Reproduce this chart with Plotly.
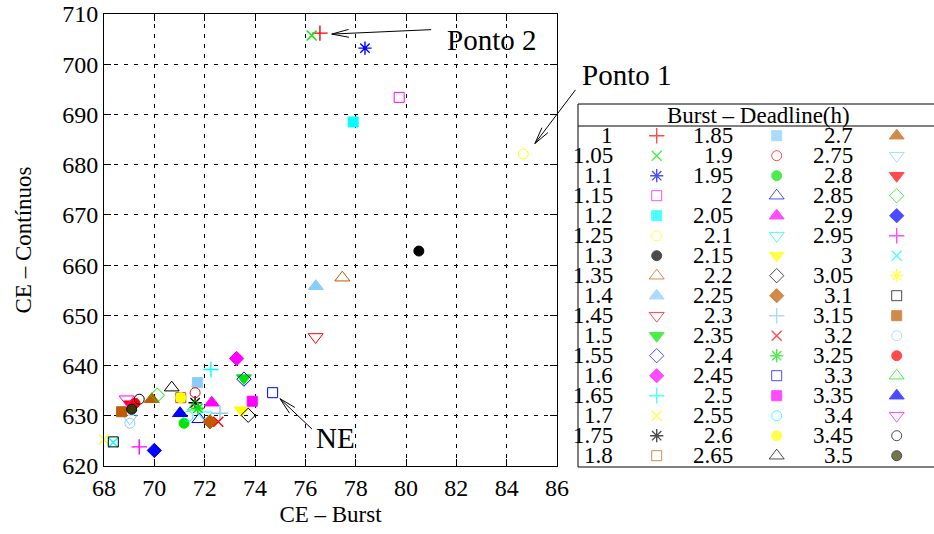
import math
import plotly.graph_objects as go

# Burst deadline (h) for each run
deadlines = ["1", "1.05", "1.1", "1.15", "1.2", "1.25", "1.3", "1.35", "1.4", "1.45",
             "1.5", "1.55", "1.6", "1.65", "1.7", "1.75", "1.8", "1.85", "1.9", "1.95",
             "2", "2.05", "2.1", "2.15", "2.2", "2.25", "2.3", "2.35", "2.4", "2.45",
             "2.5", "2.55", "2.6", "2.65", "2.7", "2.75", "2.8", "2.85", "2.9", "2.95",
             "3", "3.05", "3.1", "3.15", "3.2", "3.25", "3.3", "3.35", "3.4", "3.45", "3.5"]

# CE with burst allocation
ce_burst = [76.58, 76.25, 78.37, 79.73, 77.90, 84.66, 80.51, 77.47, 76.42, 76.41,
            73.56, 73.56, 73.27, 72.25, 68.00, 71.62, 71.05, 71.71, 71.62, 71.18,
            71.79, 72.28, 72.01, 73.47, 73.73, 72.21, 72.61, 72.54, 71.73, 74.70,
            73.89, 71.34, 71.05, 70.69, 69.90, 69.03, 69.07, 70.12, 70.00, 69.40,
            68.37, 67.97, 68.37, 68.70, 69.03, 69.23, 71.62, 71.02, 68.90, 69.40, 69.10]

# CE with continuous allocation
ce_continuos = [706.2, 705.7, 703.2, 693.4, 688.5, 682.1, 662.8, 657.5, 655.8, 645.7,
                637.5, 637.3, 641.4, 639.2, 625.3, 632.6, 633.6, 636.6, 634.6, 628.5,
                629.3, 632.6, 630.1, 631.1, 630.1, 628.8, 630.5, 628.8, 631.5, 634.6,
                632.9, 629.9, 633.6, 635.6, 633.3, 629.5, 632.3, 634.1, 623.1, 623.8,
                624.7, 625.3, 624.8, 630.8, 628.5, 632.5, 631.8, 630.5, 633.3, 633.3, 631.3]

x_ticks = [68, 70, 72, 74, 76, 78, 80, 82, 84, 86]
y_ticks = [620, 630, 640, 650, 660, 670, 680, 690, 700, 710]

# ---- point styles (gnuplot-like cycle) ----
RED, GREEN, BLUE, MAGENTA, CYAN = "#ff0000", "#00e600", "#0000ff", "#ff00ff", "#00ffff"
YELLOW, BLACK, BROWN, LBLUE, OLIVE = "#ffff00", "#000000", "#c05a00", "#88ccfa", "#3a3a08"
color_cycle = [RED, GREEN, BLUE, MAGENTA, CYAN, YELLOW, BLACK, BROWN, LBLUE]
symbol_cycle = ["cross-thin-open", "x-thin-open", "asterisk-open", "square-open", "square",
                "circle-open", "circle", "triangle-up-open", "triangle-up",
                "triangle-down-open", "triangle-down", "diamond-open", "diamond"]
symbol_size = {"cross-thin-open": 11, "x-thin-open": 10, "asterisk-open": 11,
               "square-open": 10, "square": 10, "circle-open": 10, "circle": 10,
               "triangle-up-open": 13, "triangle-up": 13, "triangle-down-open": 13,
               "triangle-down": 13, "diamond-open": 11, "diamond": 11}
thin_symbols = {"cross-thin-open", "x-thin-open", "asterisk-open"}

colors = [color_cycle[i % 9] for i in range(len(deadlines))]
symbols = [symbol_cycle[i % 13] for i in range(len(deadlines))]
colors[49], symbols[49] = BLACK, "circle-open"
colors[50], symbols[50] = OLIVE, "circle"
line_colors = list(colors)
line_colors[50] = BLACK
sizes = [symbol_size[s] for s in symbols]
line_widths = [1.4 if s in thin_symbols else 1 for s in symbols]

W, H = 934, 534
FONT = "Liberation Serif"
# plot frame in pixels
PL, PR, PT, PB = 104, 557, 14, 466
# key box in pixels
KL, KT, KH, KB = 578, 104, 126, 467

fig = go.Figure()

for i, lab in enumerate(deadlines):
    fig.add_trace(go.Scatter(
        x=[ce_burst[i]], y=[ce_continuos[i]], mode="markers", name=lab,
        cliponaxis=False, showlegend=False,
        marker=dict(symbol=symbols[i], size=sizes[i], color=colors[i],
                    line=dict(color=line_colors[i], width=line_widths[i])),
    ))

# ---- key: table of deadline / symbol in three column pairs ----
rows = 17
key_x, key_y = [], []
for i in range(len(deadlines)):
    c, r = divmod(i, rows)
    key_x.append(656.7 + 120 * c)
    key_y.append(135.7 + 20 * r)
fig.add_trace(go.Scatter(
    x=key_x, y=key_y, xaxis="x2", yaxis="y2", mode="markers", showlegend=False,
    cliponaxis=False, hoverinfo="skip",
    marker=dict(symbol=symbols, size=sizes, color=colors,
                line=dict(color=line_colors, width=line_widths)),
))

annotations = []
for i, lab in enumerate(deadlines):
    c, r = divmod(i, rows)
    annotations.append(dict(
        x=614 + 120 * c, y=135.7 + 20 * r, xref="x2", yref="y2", text=lab,
        showarrow=False, xanchor="right", yanchor="middle",
        font=dict(family=FONT, size=23, color="black"), borderpad=0))
annotations.append(dict(
    x=758, y=115, xref="x2", yref="y2", text="Burst \u2013 Deadline(h)",
    showarrow=False, xanchor="center", yanchor="middle",
    font=dict(family=FONT, size=23, color="black"), borderpad=0))

shapes = [
    dict(type="line", xref="paper", yref="paper", x0=KL / W, x1=1.02, y0=1 - KT / H, y1=1 - KT / H,
         line=dict(color="black", width=1)),
    dict(type="line", xref="paper", yref="paper", x0=KL / W, x1=1.02, y0=1 - KH / H, y1=1 - KH / H,
         line=dict(color="black", width=1)),
    dict(type="line", xref="paper", yref="paper", x0=KL / W, x1=1.02, y0=1 - KB / H, y1=1 - KB / H,
         line=dict(color="black", width=1)),
    dict(type="line", xref="paper", yref="paper", x0=KL / W, x1=KL / W, y0=1 - KT / H, y1=1 - KB / H,
         line=dict(color="black", width=1)),
]

# ---- labelled points ----
label_font = dict(family=FONT, size=29, color="black")
annotations += [
    dict(x=81.55, y=704.8, xref="x", yref="y", text="Ponto 2", showarrow=False,
         xanchor="left", yanchor="middle", font=label_font),
    dict(x=580 / W, y=1 - 75 / H, xref="paper", yref="paper", text="Ponto 1", showarrow=False,
         xanchor="left", yanchor="middle", font=label_font),
    dict(x=76.35, y=625.5, xref="x", yref="y", text="NE", showarrow=False,
         xanchor="left", yanchor="middle", font=label_font),
]

sx = (PR - PL) / (x_ticks[-1] - x_ticks[0])
sy = (PB - PT) / (y_ticks[-1] - y_ticks[0])


def add_arrow(tail, tip, head_len=19, head_ang=13):
    annotations.append(dict(
        x=tip[0], y=tip[1], ax=tail[0], ay=tail[1], xref="x", yref="y",
        axref="x", ayref="y", text="", showarrow=True, arrowhead=0,
        arrowwidth=1, arrowcolor="black", standoff=0, startstandoff=0))
    dx = (tail[0] - tip[0]) * sx
    dy = -(tail[1] - tip[1]) * sy
    n = math.hypot(dx, dy)
    ux, uy = dx / n, dy / n
    for s in (1, -1):
        a = math.radians(head_ang) * s
        wx = ux * math.cos(a) - uy * math.sin(a)
        wy = ux * math.sin(a) + uy * math.cos(a)
        annotations.append(dict(
            x=tip[0], y=tip[1], ax=wx * head_len, ay=wy * head_len, xref="x", yref="y",
            text="", showarrow=True, arrowhead=0, arrowwidth=1, arrowcolor="black",
            standoff=0, startstandoff=0))


add_arrow((81.06, 706.9), (77.05, 706.0))
add_arrow((86.78, 695.2), (85.12, 684.2))
add_arrow((76.32, 627.1), (74.99, 633.4))

axis_common = dict(
    showline=True, linecolor="black", linewidth=1, mirror="ticks",
    ticks="inside", ticklen=7, tickcolor="black", tickwidth=1,
    showgrid=True, gridcolor="black", gridwidth=1, griddash="4px,6px",
    zeroline=False, tickfont=dict(family=FONT, size=24, color="black"),
    automargin=False,
)

fig.update_layout(
    width=W, height=H,
    margin=dict(l=0, r=0, t=0, b=0),
    paper_bgcolor="white", plot_bgcolor="white",
    font=dict(family=FONT, size=23, color="black"),
    xaxis=dict(axis_common, domain=[PL / W, PR / W], range=[x_ticks[0], x_ticks[-1]],
               tickvals=x_ticks, ticktext=[str(v) for v in x_ticks],
               title=dict(text="CE \u2013 Burst", standoff=6,
                          font=dict(family=FONT, size=23))),
    yaxis=dict(axis_common, domain=[1 - PB / H, 1 - PT / H], range=[y_ticks[0], y_ticks[-1]],
               tickvals=y_ticks, ticktext=[str(v) for v in y_ticks],
               title=dict(text="CE \u2013 Cont\u00ednuos", standoff=24,
                          font=dict(family=FONT, size=23))),
    xaxis2=dict(domain=[KL / W, 1], range=[KL, W], visible=False, fixedrange=True),
    yaxis2=dict(domain=[1 - KB / H, 1 - KT / H], range=[KB, KT], visible=False,
                fixedrange=True, anchor="x2"),
    annotations=annotations, shapes=shapes, showlegend=False,
)
fig.update_layout(xaxis2_anchor="y2")

fig.write_html("out.html")
